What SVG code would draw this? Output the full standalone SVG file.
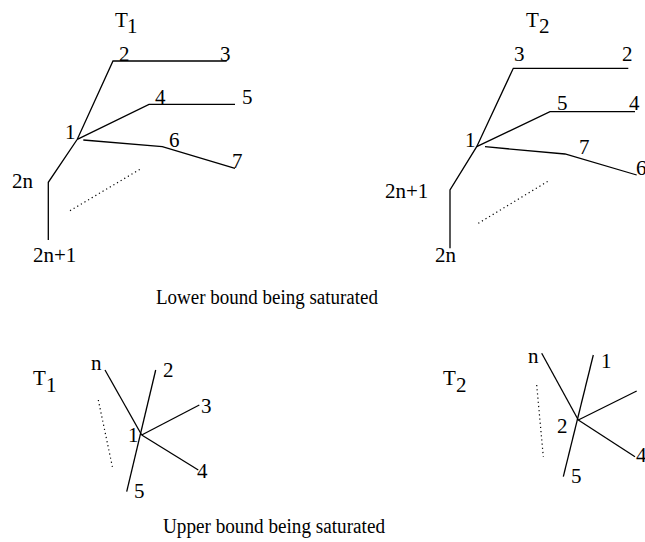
<svg xmlns="http://www.w3.org/2000/svg" width="645" height="542" viewBox="0 0 645 542">
<style>
text{font-family:"Liberation Serif","Times New Roman",serif;fill:#000;font-size:21px}
.cap{font-size:20px}
.e{stroke:#000;stroke-width:1.3;fill:none}
.d{stroke:#000;stroke-width:1.2;fill:none;stroke-dasharray:1.2 3}
</style>
<rect width="645" height="542" fill="#fff"/>
<g id="connectors">
<polyline class="e" points="226.7,61 113,61 77.3,139.3 48.3,182.3 48.3,240"/>
<polyline class="e" points="77.3,139.3 149,104.3 235,104.3"/>
<polyline class="e" points="83.3,140 162.3,146.7 235,168.3"/>
<line class="d" x1="70" y1="210.7" x2="141.7" y2="168.3"/>
<polyline class="e" points="628.3,68.3 513.3,68.3 476.7,146.7 450,190 450,248.3"/>
<polyline class="e" points="476.7,146.7 550,111.7 635,111.7"/>
<polyline class="e" points="485,146.7 565,154 636.7,175"/>
<line class="d" x1="478.3" y1="223.3" x2="550" y2="180"/>
<line class="e" x1="105" y1="370" x2="141.7" y2="435"/>
<line class="e" x1="155.7" y1="370" x2="126.7" y2="491.7"/>
<line class="e" x1="141.7" y1="435" x2="199.3" y2="405"/>
<line class="e" x1="141.7" y1="435" x2="198.3" y2="470"/>
<line class="d" x1="98.3" y1="400" x2="112.7" y2="468.3"/>
<line class="e" x1="541.7" y1="353.3" x2="578.3" y2="420"/>
<line class="e" x1="593.3" y1="355" x2="563.3" y2="476.7"/>
<line class="e" x1="578.3" y1="420" x2="636.7" y2="391"/>
<line class="e" x1="578.3" y1="420" x2="635" y2="456.7"/>
<line class="d" x1="536.7" y1="385" x2="543.3" y2="456.7"/>
</g>
<g id="tree-T1-lower">
<text x="115" y="27">T</text><text x="127" y="33">1</text>
<text x="119" y="61">2</text>
<text x="220" y="61">3</text>
<text x="155" y="104">4</text>
<text x="242" y="104">5</text>
<text x="65" y="139">1</text>
<text x="169" y="147">6</text>
<text x="232" y="168">7</text>
<text x="12" y="188">2n</text>
<text x="33" y="262">2n+1</text>
</g>
<g id="tree-T2-lower">
<text x="526" y="27">T</text><text x="539" y="33">2</text>
<text x="514" y="61">3</text>
<text x="622" y="61">2</text>
<text x="557" y="110">5</text>
<text x="629" y="110">4</text>
<text x="465" y="146.7">1</text>
<text x="579" y="154">7</text>
<text x="636" y="175">6</text>
<text x="385" y="198">2n+1</text>
<text x="435" y="262">2n</text>
</g>
<g id="caption-lower"><text class="cap" x="156" y="304" textLength="222" lengthAdjust="spacingAndGlyphs">Lower bound being saturated</text></g>
<g id="tree-T1-upper">
<text x="33" y="385">T</text><text x="46" y="392">1</text>
<text x="91" y="370">n</text>
<text x="163" y="377">2</text>
<text x="201" y="413">3</text>
<text x="128" y="442">1</text>
<text x="197" y="478">4</text>
<text x="134" y="498">5</text>
</g>
<g id="tree-T2-upper">
<text x="443" y="385">T</text><text x="456" y="392">2</text>
<text x="528" y="363">n</text>
<text x="601" y="368">1</text>
<text x="557" y="433">2</text>
<text x="636" y="462">4</text>
<text x="571" y="483">5</text>
</g>
<g id="caption-upper"><text class="cap" x="163" y="533" textLength="222" lengthAdjust="spacingAndGlyphs">Upper bound being saturated</text></g>
</svg>
